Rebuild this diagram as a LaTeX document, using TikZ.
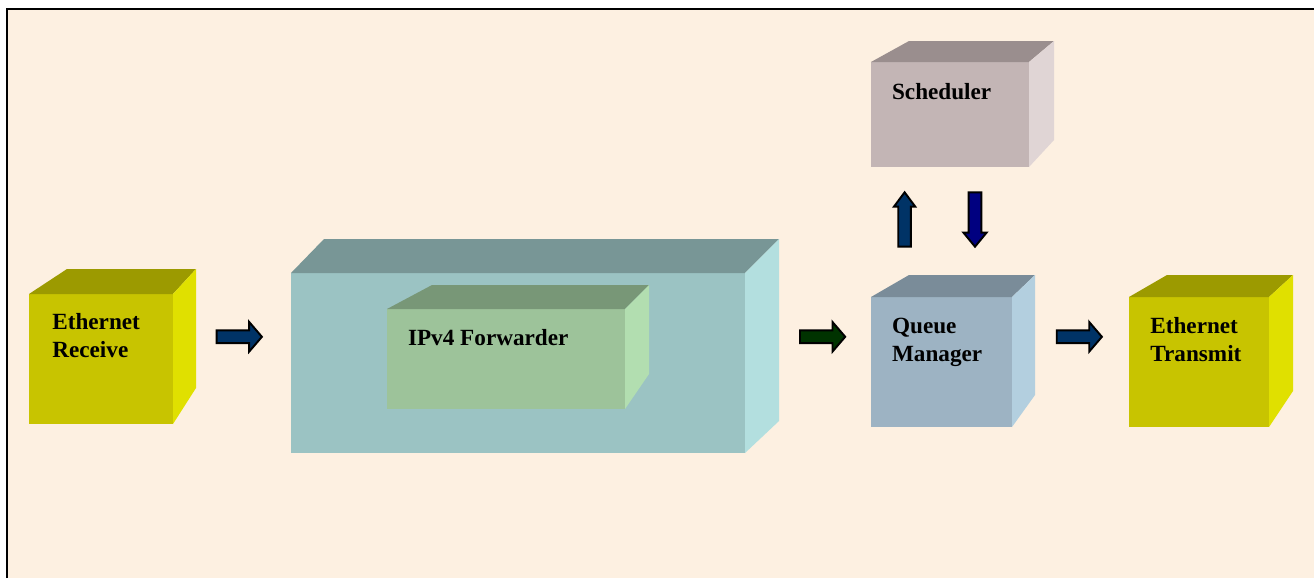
\documentclass[tikz,border=0pt]{standalone}
\usepackage{fontspec}
\setmainfont{Liberation Serif}

% face colours of the blocks
\definecolor{paper}{HTML}{FDF0E1}
\definecolor{yelF}{HTML}{C8C400}
\definecolor{yelT}{HTML}{9C9A00}
\definecolor{yelS}{HTML}{E0E000}
\definecolor{tealF}{HTML}{9BC3C3}
\definecolor{tealT}{HTML}{789696}
\definecolor{tealS}{HTML}{B3DFDF}
\definecolor{grnF}{HTML}{9DC39A}
\definecolor{grnT}{HTML}{789777}
\definecolor{grnS}{HTML}{B2DEB0}
\definecolor{mauF}{HTML}{C3B5B5}
\definecolor{mauT}{HTML}{9A8E8E}
\definecolor{mauS}{HTML}{E0D5D5}
\definecolor{slateF}{HTML}{9DB3C3}
\definecolor{slateT}{HTML}{7A8C99}
\definecolor{slateS}{HTML}{B3CFDF}
\definecolor{bluearrow}{HTML}{003366}
\definecolor{greenarrow}{HTML}{003300}
\definecolor{navyarrow}{HTML}{000080}

\begin{document}
\begin{tikzpicture}[x=0.02cm, y=-0.02cm,
		blocklabel/.style={anchor=north west, inner sep=0pt, align=left,
			font=\fontsize{13.2}{15.9}\selectfont\bfseries},
		arrowline/.style={draw=black, line width=1.1pt, line join=miter}]
	\useasboundingbox (0,0) rectangle (1314,578);
	% sheet and its frame
	\fill[paper] (7,9) rectangle (1314,578);
	\draw[line width=1.13pt] (7,578) -- (7,9) -- (1314,9);

	% Blocks: front face, top face, side face
	\foreach \n/\l/\t/\r/\b/\bl/\br/\bt/\rb/\c in {
			rx/29/294/173/424/67/196/269/388/yel,
			fw/291/273/745/453/324/779/239/421/teal,
			ip/387/309/625/409/432/649/285/374/grn,
			sch/871/62/1029/167/909/1054/41/140/mau,
			qm/871/297/1012/427/909/1035/275/395/slate,
			tx/1129/297/1269/427/1167/1293/275/391/yel} {
		\fill[fill=\c F] (\l,\t) rectangle (\r,\b);
		\fill[fill=\c T] (\l,\t) -- (\bl,\bt) -- (\br,\bt) -- (\r,\t) -- cycle;
		\fill[fill=\c S] (\r,\t) -- (\br,\bt) -- (\br,\rb) -- (\r,\b) -- cycle;
		\coordinate (\n) at (\l,\t);
	}

	% Labels
	\node[blocklabel] (rxtext) at (52,313.5) {Ethernet\\Receive};
	\node[blocklabel] (iptext) at (407.7,329.5) {IPv4 Forwarder};
	\node[blocklabel] (schtext) at (891.7,83.3) {Scheduler};
	\node[blocklabel] (qmtext) at (891.7,317.5) {Queue\\Manager};
	\node[blocklabel] (txtext) at (1150,317.5) {Ethernet\\Transmit};

	% Block arrows
	\coordinate (rxout) at (216.7,336.8);
	\coordinate (fwout) at (800,336.8);
	\coordinate (qmout) at (1056.7,336.8);
	\foreach \t/\c in {rxout/bluearrow, fwout/greenarrow, qmout/bluearrow}
		\draw[arrowline, fill=\c] (\t) ++(0,-6.4) -- ++(32.5,0) -- ++(0,-8.4)
			-- ++(12.7,14.8) -- ++(-12.7,14.8) -- ++(0,-8.4) -- ++(-32.5,0) -- cycle;

	\coordinate (qmup) at (904.6,246.7);
	\coordinate (schdown) at (975,192.3);
	\draw[arrowline, fill=bluearrow] (qmup) ++(-6.35,0) -- ++(0,-40) -- ++(-4.35,0)
		-- ++(10.7,-14.4) -- ++(10.7,14.4) -- ++(-4.35,0) -- ++(0,40) -- cycle;
	\draw[arrowline, fill=navyarrow] (schdown) ++(-6.35,0) -- ++(0,40.4) -- ++(-5.15,0)
		-- ++(11.5,14) -- ++(11.5,-14) -- ++(-5.15,0) -- ++(0,-40.4) -- cycle;
\end{tikzpicture}
\end{document}
